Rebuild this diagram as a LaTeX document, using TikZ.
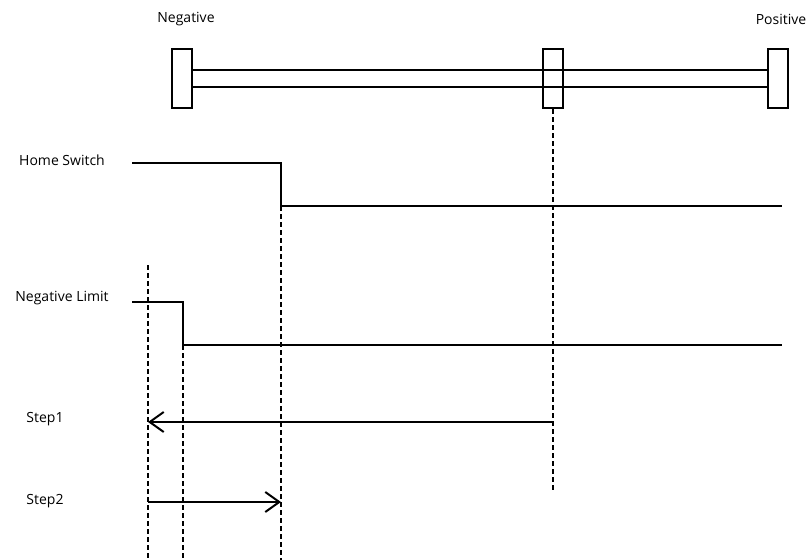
\documentclass[tikz,border=0pt]{standalone}
\usepackage{fontspec}
\setmainfont{Open Sans}
\usetikzlibrary{arrows.meta}
\begin{document}
\begin{tikzpicture}[x=1pt,y=-1pt,
  sig/.style={line width=2pt},
  guide/.style={line width=1.6pt,dash pattern=on 5pt off 3pt},
  blk/.style={draw,line width=2pt,minimum width=20pt,minimum height=59pt,inner sep=0pt,fill=white},
  lbl/.style={font=\fontsize{14}{16}\selectfont,inner sep=0pt},
  arr/.style={line width=2pt,-{Straight Barb[length=14pt,width=20pt,line width=2pt]}}]
\useasboundingbox (0,0) rectangle (807,560);
% rails
\coordinate (r1a) at (192,70); \coordinate (r1b) at (768,70);
\coordinate (r2a) at (192,87); \coordinate (r2b) at (768,87);
\draw[sig] (r1a) -- (r1b);
\draw[sig] (r2a) -- (r2b);
\node[blk] (bl) at (182,78.5) {};
\node[blk,fill=none] (bm) at (553,78.5) {};
\node[blk] (br) at (778,78.5) {};
\node[lbl] (neg) at (186,19) {Negative};
\node[lbl] (pos) at (781,19) {Positive};
% labels
\node[lbl] (hs) at (62,160) {Home Switch};
\node[lbl] (nl) at (62,298) {Negative Limit};
\node[lbl] (s1) at (45,419) {Step1};
\node[lbl] (s2) at (45,501) {Step2};
% home switch signal
\coordinate (h0) at (132,163); \coordinate (h1) at (281,163);
\coordinate (h2) at (281,206); \coordinate (h3) at (782,206);
\draw[sig] (h0) -- (h1) -- (h2) -- (h3);
% negative limit signal
\coordinate (n0) at (132,302); \coordinate (n1) at (183,302);
\coordinate (n2) at (183,345); \coordinate (n3) at (782,345);
\draw[sig] (n0) -- (n1) -- (n2) -- (n3);
% guides
\coordinate (gA) at (148,265); \coordinate (gAe) at (148,560);
\coordinate (gBe) at (183,560);
\coordinate (gCe) at (281,560);
\coordinate (gDe) at (553,492);
\draw[guide] (gA) -- (gAe);
\draw[guide] (n2) -- (gBe);
\draw[guide] (h2) -- (gCe);
\draw[guide] (bm.south) -- (gDe);
% steps
\coordinate (a1s) at (553,422); \coordinate (a1e) at (148,422);
\coordinate (a2s) at (148,502); \coordinate (a2e) at (281,502);
\draw[arr] (a1s) -- (a1e);
\draw[arr] (a2s) -- (a2e);
\end{tikzpicture}
\end{document}
